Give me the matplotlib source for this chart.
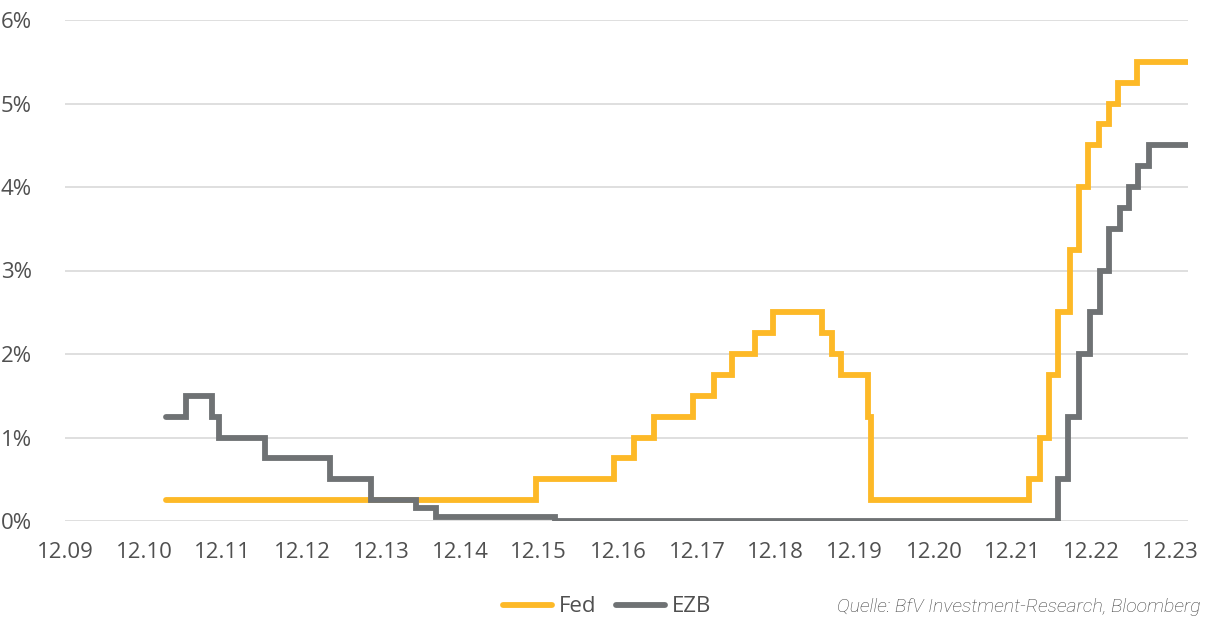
import matplotlib
matplotlib.use("Agg")
import matplotlib.pyplot as plt
import pandas as pd

# Leitzinsen (Obergrenze Fed, Hauptrefinanzierungssatz EZB), Änderungstermine
fed_dates = ["2011-04-13", "2015-12-16", "2016-12-14", "2017-03-15", "2017-06-14",
             "2017-12-13", "2018-03-21", "2018-06-13", "2018-09-26", "2018-12-19",
             "2019-07-31", "2019-09-18", "2019-10-30", "2020-03-03", "2020-03-15",
             "2022-03-16", "2022-05-04", "2022-06-15", "2022-07-27", "2022-09-21",
             "2022-11-02", "2022-12-14", "2023-02-01", "2023-03-22", "2023-05-03",
             "2023-07-26"]
fed_rates = [0.25, 0.50, 0.75, 1.00, 1.25,
             1.50, 1.75, 2.00, 2.25, 2.50,
             2.25, 2.00, 1.75, 1.25, 0.25,
             0.50, 1.00, 1.75, 2.50, 3.25,
             4.00, 4.50, 4.75, 5.00, 5.25,
             5.50]

ezb_dates = ["2011-04-13", "2011-07-13", "2011-11-09", "2011-12-14", "2012-07-11",
             "2013-05-08", "2013-11-13", "2014-06-11", "2014-09-10", "2016-03-16",
             "2022-07-27", "2022-09-14", "2022-11-02", "2022-12-21", "2023-02-08",
             "2023-03-22", "2023-05-10", "2023-06-21", "2023-08-02", "2023-09-20"]
ezb_rates = [1.25, 1.50, 1.25, 1.00, 0.75,
             0.50, 0.25, 0.15, 0.05, 0.00,
             0.50, 1.25, 2.00, 2.50, 3.00,
             3.50, 3.75, 4.00, 4.25, 4.50]

end_date = "2024-03-20"

tick_dates = ["2009-12-31", "2010-12-31", "2011-12-31", "2012-12-31", "2013-12-31",
              "2014-12-31", "2015-12-31", "2016-12-31", "2017-12-31", "2018-12-31",
              "2019-12-31", "2020-12-31", "2021-12-31", "2022-12-31", "2023-12-31"]
tick_labels = ["12.09", "12.10", "12.11", "12.12", "12.13", "12.14", "12.15", "12.16",
               "12.17", "12.18", "12.19", "12.20", "12.21", "12.22", "12.23"]
y_ticks = [0, 1, 2, 3, 4, 5, 6]

FED_COL = "#FDB927"
EZB_COL = "#6F7274"
TXT_COL = "#505050"

plt.rcParams["font.family"] = ["Open Sans", "DejaVu Sans"]

fig = plt.figure(figsize=(12.09, 6.19), dpi=100)
ax = fig.add_axes([65 / 1209, 1 - 521 / 619, (1188 - 65) / 1209, (521 - 20) / 619])


def step_series(dates, rates):
    x = pd.to_datetime(dates + [end_date])
    y = rates + [rates[-1]]
    return x, y


x, y = step_series(fed_dates, fed_rates)
ax.plot(x, y, drawstyle="steps-post", color=FED_COL, lw=4.2, label="Fed",
        solid_joinstyle="miter", solid_capstyle="round", zorder=2)
x, y = step_series(ezb_dates, ezb_rates)
ax.plot(x, y, drawstyle="steps-post", color=EZB_COL, lw=4.2, label="EZB",
        solid_joinstyle="miter", solid_capstyle="round", zorder=3)

ax.set_xlim(pd.Timestamp("2009-12-31"), pd.Timestamp(end_date))
ax.set_ylim(0, 6)
ax.set_xticks(pd.to_datetime(tick_dates))
ax.set_xticklabels(tick_labels)
ax.set_yticks(y_ticks)
ax.set_yticklabels([f"{v}%" for v in y_ticks])

ax.grid(axis="y", color="#D9D9D9", lw=1.2)
ax.set_axisbelow(True)
for s in ax.spines.values():
    s.set_visible(False)
ax.tick_params(axis="both", length=0, labelsize=16, colors=TXT_COL)
ax.tick_params(axis="x", pad=15)
ax.tick_params(axis="y", pad=24)

leg = fig.legend(loc="center", bbox_to_anchor=(0.502, 1 - 607 / 619), ncol=2,
                 frameon=False, fontsize=16, handlelength=2.2, handletextpad=0.3,
                 columnspacing=0.9, labelcolor=TXT_COL)
for h in leg.get_lines():
    h.set_solid_capstyle("round")

fig.text(1201 / 1209, 1 - 607 / 619, "Quelle: BfV Investment-Research, Bloomberg",
         ha="right", va="center", fontsize=14, style="italic", color="#404040",
         family=["Roboto", "DejaVu Sans"], fontweight="light")

fig.savefig("out.png", dpi=100)
